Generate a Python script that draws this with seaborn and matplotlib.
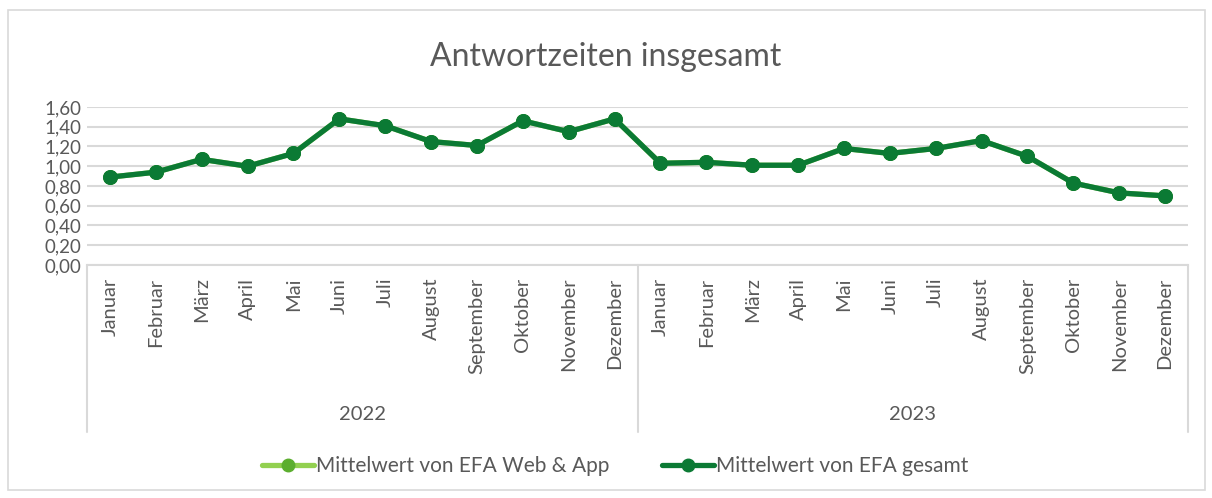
import numpy as np
import pandas as pd
import seaborn as sns
import matplotlib.pyplot as plt
from matplotlib.ticker import FuncFormatter
from matplotlib.lines import Line2D
from matplotlib.patches import Rectangle

months = ["Januar", "Februar", "März", "April", "Mai", "Juni", "Juli",
          "August", "September", "Oktober", "November", "Dezember"]
years = ["2022", "2023"]
web_app = [0.89, 0.94, 1.07, 1.00, 1.13, 1.48, 1.41, 1.25, 1.21, 1.46, 1.35, 1.48,
           1.03, 1.04, 1.01, 1.01, 1.18, 1.13, 1.18, 1.26, 1.10, 0.83, 0.73, 0.70]
gesamt = [0.89, 0.94, 1.07, 1.00, 1.13, 1.48, 1.41, 1.25, 1.21, 1.46, 1.35, 1.48,
          1.03, 1.04, 1.01, 1.01, 1.18, 1.13, 1.18, 1.26, 1.10, 0.83, 0.73, 0.70]

sns.set_style("white")
plt.rcParams['font.family'] = ['Lato', 'DejaVu Sans']

df = pd.DataFrame({
    "idx": np.arange(len(gesamt)),
    "web_app": web_app,
    "gesamt": gesamt,
})

light = "#92D050"
light_mk = "#5BAE2E"
dark = "#0B7A34"
grey_txt = "#595959"
grid_c = "#D9D9D9"

fig = plt.figure(figsize=(12.12, 4.98), dpi=100)
W, H = 1212, 498
ax = fig.add_axes([87 / W, 1 - 265 / H, (1188 - 87) / W, (265 - 107) / H])

sns.lineplot(data=df, x="idx", y="web_app", ax=ax, color=light, lw=3.8,
             marker="o", markersize=10, markerfacecolor=light_mk, markeredgecolor=light_mk)
sns.lineplot(data=df, x="idx", y="gesamt", ax=ax, color=dark, lw=3.8,
             marker="o", markersize=10, markerfacecolor=dark, markeredgecolor=dark)

ax.set_xlim(-0.5, len(gesamt) - 0.5)
ax.set_ylim(0, 1.6)
ax.set_yticks(np.arange(0, 1.61, 0.2))
ax.yaxis.set_major_formatter(FuncFormatter(lambda v, p: f"{v:.2f}".replace(".", ",")))
ax.grid(axis="y", color=grid_c, lw=1.5)
ax.set_axisbelow(True)
for s in ["top", "right", "left"]:
    ax.spines[s].set_visible(False)
ax.spines["bottom"].set_color(grid_c)
ax.spines["bottom"].set_linewidth(1.5)
ax.tick_params(axis="y", length=0, labelsize=13.5, labelcolor=grey_txt, pad=4)

labels = months * len(years)
ax.set_xticks(df["idx"])
ax.set_xticklabels(labels, rotation=90, fontsize=14.5, color=grey_txt, va="top")
ax.tick_params(axis="x", length=0, pad=9)
ax.set_xlabel("")
ax.set_ylabel("")

# multi-level category axis: separators and year labels
trans = ax.get_xaxis_transform()
ybot = -(432 - 265) / (265 - 107)
for xb in [-0.5, 11.5, 23.5]:
    ax.add_line(Line2D([xb, xb], [0, ybot], transform=trans, color=grid_c,
                       lw=1.5, clip_on=False))
for i, yr in enumerate(years):
    ax.text(i * 12 + 5.5, -(415 - 265) / (265 - 107), yr, transform=trans,
            ha="center", va="center", fontsize=14.5, color=grey_txt)

fig.text(0.5, 1 - 57 / H, "Antwortzeiten insgesamt", ha="center", va="center",
         fontsize=23, color=grey_txt)

handles = [
    Line2D([], [], color=light, lw=3.8, marker="o", markersize=9,
           markerfacecolor=light_mk, markeredgecolor=light_mk),
    Line2D([], [], color=dark, lw=3.8, marker="o", markersize=9,
           markerfacecolor=dark, markeredgecolor=dark),
]
fig.legend(handles, ["Mittelwert von EFA Web & App", "Mittelwert von EFA gesamt"],
           loc="center", bbox_to_anchor=(615 / W, 1 - 466 / H), ncol=2,
           frameon=False, fontsize=15, labelcolor=grey_txt, handlelength=2.5,
           handletextpad=0.1, columnspacing=2.5)

fig.add_artist(Rectangle((8 / W, 1 - 490 / H), (1205 - 8) / W, (490 - 10) / H,
                         transform=fig.transFigure, fill=False, ec=grid_c, lw=1.2))

fig.savefig("out.png", dpi=100)
